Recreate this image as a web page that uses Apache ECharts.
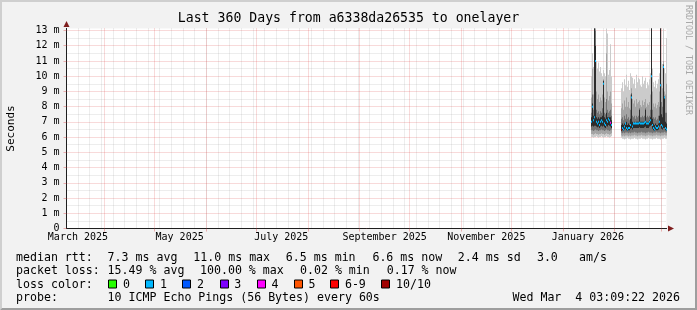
<!DOCTYPE html>
<html><head><meta charset="utf-8">
<script src="https://cdn.jsdelivr.net/npm/echarts@6/dist/echarts.min.js"></script>
<style>html,body{margin:0;padding:0;background:#f2f2f2;overflow:hidden}#c{width:697px;height:310px}</style>
</head><body><div id="c"></div>
<script>
// ---------- data ----------
const titleText = 'Last 360 Days from a6338da26535 to onelayer';
const rangeStart = '2025-03-09T03:09:22';
const rangeEnd = '2026-03-04T03:09:22';
const yMax = 13.13;
const yMajor = [0,1,2,3,4,5,6,7,8,9,10,11,12,13];
const yMinor = [0.5,1.5,2.5,3.5,4.5,5.5,6.5,7.5,8.5,9.5,10.5,11.5,12.5];
const monthStarts = ['2025-04-01','2025-05-01','2025-06-01','2025-07-01','2025-08-01','2025-09-01','2025-10-01','2025-11-01','2025-12-01','2026-01-01','2026-02-01','2026-03-01'];
const labelDates = ['2025-03-16','2025-05-16','2025-07-16','2025-09-16','2025-11-16','2026-01-16'];
const labelTexts = ['March 2025','May 2025','July 2025','September 2025','November 2025','January 2026'];
const weekStarts = ['2025-03-16','2025-03-23','2025-03-30','2025-04-06','2025-04-13','2025-04-20','2025-04-27','2025-05-04','2025-05-11','2025-05-18','2025-05-25','2025-06-01','2025-06-08','2025-06-15','2025-06-22','2025-06-29','2025-07-06','2025-07-13','2025-07-20','2025-07-27','2025-08-03','2025-08-10','2025-08-17','2025-08-24','2025-08-31','2025-09-07','2025-09-14','2025-09-21','2025-09-28','2025-10-05','2025-10-12','2025-10-19','2025-10-26','2025-11-02','2025-11-09','2025-11-16','2025-11-23','2025-11-30','2025-12-07','2025-12-14','2025-12-21','2025-12-28','2026-01-04','2026-01-11','2026-01-18','2026-01-25','2026-02-01','2026-02-08','2026-02-15','2026-02-22','2026-03-01'];

// columns: first column start and column length (one rrd pixel = 14.4 h)
const colStart = '2026-01-17T12:45:22';
const colHours = 14.4;
const N = null;
// smoke bands (outer -> inner), per column; null = no data
const lo1 = [6.0,6.0,5.95,6.0,6.0,6.05,6.0,5.95,6.0,6.0,6.05,6.0,5.95,6.0,6.0,6.05,6.0,6.0,5.95,6.0,6.05, N,N,N,N,N,N,N,N,N,
  5.95,5.9,5.9,5.85,5.9, 5.9,5.95,5.9,5.9,5.85, 5.9,5.9,5.9,5.95,5.9, 5.9,5.85,5.9,5.9,5.9, 5.95,5.9,5.9,5.9,5.85, 5.9,5.9,5.95,5.9,5.9, 5.9,5.85,5.9,5.9,5.9, 5.95,5.9,5.9,5.9,5.85, 5.9,5.9,5.9,5.95,5.9, 5.9];
const hi1 = [10.0,11.5,10.6,13.5,13.5,11.0,10.5,10.9,10.3,10.6,10.2,10.0,10.4,10.2,10.0,13.5,12.8,10.1,10.4,12.1,10.0, N,N,N,N,N,N,N,N,N,
  9.2,9.6,9.0,9.8,9.4, 10.1,9.3,9.7,9.1,10.2, 10.0,9.9,9.5,9.8,9.2, 10.1,9.6,9.9,9.8,9.4, 9.3,10.0,9.5,9.7,9.9, 9.2,9.6,9.4,9.8,10.2, 13.5,10.5,9.6,9.3,9.7, 9.2,9.5,9.8,10.2,13.5, 11.0,10.8,13.5,10.5,10.2, 12.5];
const lo2 = [6.2,6.2,6.15,6.2,6.25,6.2,6.2,6.15,6.2,6.2,6.25,6.2,6.2,6.15,6.2,6.25,6.2,6.2,6.15,6.2,6.25, N,N,N,N,N,N,N,N,N,
  6.1,6.05,6.1,6.05,6.1, 6.1,6.1,6.05,6.1,6.05, 6.1,6.1,6.1,6.15,6.1, 6.1,6.05,6.1,6.1,6.1, 6.15,6.1,6.1,6.1,6.05, 6.1,6.1,6.15,6.1,6.1, 6.1,6.05,6.1,6.1,6.1, 6.15,6.1,6.1,6.1,6.05, 6.1,6.1,6.1,6.15,6.1, 6.1];
const hi2 = [8.6,10.5,8.8,13.5,13.5,9.0,8.5,8.8,8.3,8.6,8.4,8.8,9.8,8.6,8.3,11.5,9.0,8.4,8.7,9.0,8.2, N,N,N,N,N,N,N,N,N,
  7.9,8.2,7.8,8.4,8.0, 8.6,8.0,8.3,7.9,8.8, 9.2,8.5,8.2,8.4,8.0, 8.5,8.2,8.3,8.4,8.1, 8.0,8.4,8.1,8.3,8.5, 8.0,8.2,8.1,8.3,8.8, 13.5,9.0,8.2,8.0,8.2, 7.9,8.1,8.3,9.0,13.5, 9.5,9.2,11.0,9.0,8.8, 9.5];
const lo3 = [6.45,6.45,6.4,6.45,6.5,6.45,6.45,6.4,6.45,6.45,6.5,6.45,6.45,6.4,6.45,6.5,6.45,6.45,6.4,6.45,6.5, N,N,N,N,N,N,N,N,N,
  6.3,6.25,6.3,6.25,6.3, 6.3,6.3,6.25,6.3,6.25, 6.3,6.3,6.3,6.35,6.3, 6.3,6.25,6.3,6.3,6.3, 6.35,6.3,6.3,6.3,6.25, 6.3,6.3,6.35,6.3,6.3, 6.3,6.25,6.3,6.3,6.3, 6.35,6.3,6.3,6.3,6.25, 6.3,6.3,6.3,6.35,6.3, 6.3];
const hi3 = [7.6,8.8,7.8,13.5,13.0,7.8,7.6,7.7,7.5,7.7,7.6,7.9,9.7,7.6,7.5,8.5,7.8,7.6,7.7,7.8,7.4, N,N,N,N,N,N,N,N,N,
  7.2,7.3,7.1,7.4,7.2, 7.5,7.2,7.3,7.1,7.8, 8.9,7.4,7.3,7.4,7.2, 7.4,7.3,7.4,7.9,7.3, 7.3,7.4,7.3,7.4,7.9, 7.3,7.4,7.3,7.4,7.8, 13.5,7.8,7.3,7.2,7.3, 7.1,7.2,7.4,8.0,13.5, 8.3,8.0,10.8,8.7,7.6, 7.6];
const lo4 = [6.7,6.75,6.7,6.75,6.75,6.7,6.65,6.7,6.6,6.7,6.75,6.7,6.75,6.65,6.6,6.75,6.7,6.8,6.75,6.7,6.6, N,N,N,N,N,N,N,N,N,
  6.4,6.45,6.4,6.5,6.55, 6.45,6.4,6.45,6.45,6.55, 6.6,6.5,6.6,6.6,6.6, 6.6,6.6,6.6,6.65,6.6, 6.6,6.6,6.6,6.65,6.7, 6.6,6.6,6.6,6.7,6.75, 6.8,6.55,6.45,6.4,6.5, 6.45,6.45,6.5,6.7,6.8, 6.55,6.5,6.6,6.6,6.45, 6.4];
const hi4 = [7.3,8.2,7.4,13.5,12.0,7.3,7.2,7.3,7.2,7.3,7.3,7.4,9.7,7.3,7.2,7.6,7.3,7.3,7.3,7.3,7.1, N,N,N,N,N,N,N,N,N,
  6.8,6.9,6.8,6.9,6.8, 7.0,6.8,6.9,6.8,7.2, 8.8,7.0,6.9,7.0,6.9, 7.0,7.0,7.0,7.8,7.0, 7.0,7.0,7.0,7.0,7.8, 7.0,7.0,7.0,7.1,7.3, 13.5,7.2,6.9,6.8,6.9, 6.8,6.8,6.9,7.4,13.5, 7.5,7.3,10.7,8.6,7.0, 6.9];
const medianRtt = [7.0,8.0,7.1,7.3,11.0,7.0,6.9,7.0,6.8,7.0,7.1,7.0,9.5,6.9,6.8,7.1,7.0,7.2,7.1,6.95,6.8, N,N,N,N,N,N,N,N,N,
  6.5,6.6,6.5,6.7,6.9, 6.6,6.5,6.6,6.6,6.8, 8.6,6.7,6.9,6.9,6.9, 6.9,6.9,6.9,6.95,6.9, 6.9,6.9,6.9,6.95,7.0, 6.9,6.9,6.9,7.0,7.1, 10.0,6.8,6.6,6.5,6.7, 6.6,6.6,6.7,7.0,9.4, 6.8,6.7,10.6,8.6,6.6, 6.5];
// loss bucket index per column (0..7 -> '0','1','2','3','4','5','6-9','10/10')
const lossBucket = [1,1,1,1,1,1,1,1,1,1,1,1,1,1,1,1,1,1,1,4,1, N,N,N,N,N,N,N,N,N,
  7,1,1,1,1, 1,1,1,1,1, 1,1,1,1,1, 1,1,1,1,1, 1,1,1,1,1, 1,1,1,1,1, 1,1,1,1,1, 1,1,1,1,1, 1,1,1,1,1, 1];
const lossColors = ['#26ff00','#00b8ff','#0059ff','#7e00ff','#ff00ff','#ff5500','#ff0000','#a10000'];
const lossNames = ['0','1','2','3','4','5','6-9','10/10'];

const rttStats = ['7.3 ms avg','11.0 ms max','6.5 ms min','6.6 ms now','2.4 ms sd','3.0','am/s'];
const lossStats = ['15.49 % avg','100.00 % max','0.02 % min','0.17 % now'];
const probeText = '10 ICMP Echo Pings (56 Bytes) every 60s';
const stampText = 'Wed Mar  4 03:09:22 2026';

// ---------- build ----------
const T = s => new Date(s.length === 10 ? s + 'T00:00:00' : s).getTime();
const tMin = T(rangeStart), tMax = T(rangeEnd);
const t0 = T(colStart), stepMs = colHours * 3600 * 1000;
const labelTimes = labelDates.map(T);

function band(lo, hi) {
  const out = [];
  for (let i = 0; i < lo.length; i++) if (lo[i] != null) out.push([t0 + i * stepMs, lo[i], hi[i]]);
  return out;
}
function rectItem(params, api) {
  const t = api.value(0);
  const a = api.coord([t, api.value(1)]);
  const b = api.coord([t + stepMs, api.value(2)]);
  const x0 = Math.round(a[0]), x1 = Math.round(b[0]);
  return { type: 'rect', shape: { x: x0, y: b[1], width: x1 - x0, height: a[1] - b[1] }, style: { fill: api.visual('color') } };
}
const smokeColors = ['#cbcbcb', '#a4a4a4', '#737373', '#2c2c2c'];
const bands = [[lo1, hi1], [lo2, hi2], [lo3, hi3], [lo4, hi4]];
const series = bands.map((b, k) => ({
  type: 'custom', xAxisIndex: 0, yAxisIndex: 0, clip: true, silent: true, animation: false,
  itemStyle: { color: smokeColors[k] }, encode: { x: 0, y: [1, 2] },
  data: band(b[0], b[1]), renderItem: rectItem, z: 2 + k
}));
const medData = [];
for (let i = 0; i < medianRtt.length; i++) if (medianRtt[i] != null) medData.push([t0 + i * stepMs, medianRtt[i], lossBucket[i]]);
series.push({
  type: 'custom', xAxisIndex: 0, yAxisIndex: 0, clip: true, silent: true, animation: false, z: 10,
  encode: { x: 0, y: 1 }, data: medData,
  renderItem: (params, api) => {
    const t = api.value(0);
    const a = api.coord([t, api.value(1)]);
    const b = api.coord([t + stepMs, api.value(1)]);
    const x0 = Math.round(a[0]), x1 = Math.round(b[0]);
    return { type: 'rect', shape: { x: x0, y: a[1] - 1, width: x1 - x0, height: 2 }, style: { fill: lossColors[api.value(2)] } };
  }
});

const MONO = 'DejaVu Sans Mono';
const majorCol = 'rgba(222,79,79,0.42)';
const minorCol = 'rgba(143,143,143,0.32)';
const baseTime = { type: 'value', min: tMin, max: tMax, gridIndex: 0, scale: true, position: 'bottom', offset: 0 };
const baseVal = { type: 'value', min: 0, max: yMax, gridIndex: 0, position: 'left', offset: 0 };
const off = { show: false };

function txt(text, x, y, size, extra) {
  return { type: 'text', x: x, y: y, silent: true, style: Object.assign({
    text: text, font: size + 'px "' + MONO + '"', fill: '#000',
    align: 'left', verticalAlign: 'middle', textAlign: 'left', textVerticalAlign: 'middle' }, extra || {}) };
}
const rows = [257.5, 271, 284.5, 298];
const graphics = [];
// 3D frame
graphics.push({ type: 'polygon', silent: true, shape: { points: [[0,0],[697,0],[695,2],[2,2],[2,308],[0,310]] }, style: { fill: '#cfcfcf' } });
graphics.push({ type: 'polygon', silent: true, shape: { points: [[697,0],[697,310],[0,310],[2,308],[695,308],[695,2]] }, style: { fill: '#9e9e9e' } });
graphics.push(txt(titleText, 348.5, 19, 13.2, { align: 'center', textAlign: 'center' }));
graphics.push(Object.assign(txt('RRDTOOL / TOBI OETIKER', 688, 5, 8.3, { fill: '#a8a8a8' }), { rotation: -Math.PI / 2 }));
graphics.push(Object.assign(txt('Seconds', 11, 128.5, 11, { align: 'center', textAlign: 'center' }), { rotation: Math.PI / 2 }));
const LS = 11.6;
graphics.push(txt('median rtt:', 16, rows[0], LS));
[107.6, 193.3, 285.8, 372.4, 457.8, 536.9, 579.1].forEach((x, i) => graphics.push(txt(rttStats[i], x, rows[0], LS)));
graphics.push(txt('packet loss:', 16, rows[1], LS));
[107.6, 200, 300, 386.7].forEach((x, i) => graphics.push(txt(lossStats[i], x, rows[1], LS)));
graphics.push(txt('loss color:', 16, rows[2], LS));
[108.4, 145.3, 182.2, 219.6, 256.9, 293.8, 330.2, 381.3].forEach((x, i) => {
  graphics.push({ type: 'rect', silent: true, shape: { x: Math.round(x) + 0.5, y: rows[2] - 4.5, width: 8, height: 8 }, style: { fill: lossColors[i], stroke: '#000', lineWidth: 1 } });
  graphics.push(txt(lossNames[i], x + 14.7, rows[2], LS));
});
graphics.push(txt('probe:', 16, rows[3], LS));
graphics.push(txt(probeText, 107.6, rows[3], LS));
graphics.push(txt(stampText, 680, rows[3], LS, { align: 'right', textAlign: 'right' }));

const option = {
  animation: false,
  backgroundColor: '#f2f2f2',
  grid: { left: 66.5, top: 28.5, width: 600, height: 200, show: true, backgroundColor: '#ffffff', borderWidth: 0, containLabel: false, outerBoundsMode: 'none' },
  xAxis: [
    Object.assign({}, baseTime, { z: 1,
      axisLine: { show: true, onZero: false, lineStyle: { color: '#1f1f1f', width: 1 } },
      axisTick: { show: true, length: 3, customValues: monthStarts.map(T), lineStyle: { color: majorCol } },
      axisLabel: { show: true, customValues: labelTimes, margin: 4, color: '#000', fontFamily: MONO, fontSize: 10,
        formatter: v => { const i = labelTimes.indexOf(v); return i >= 0 ? labelTexts[i] : ''; } },
      splitLine: { show: true, lineStyle: { color: majorCol, width: 1, type: [1, 1] } } }),
    Object.assign({}, baseTime, { z: 0,
      axisLine: off, axisLabel: off,
      axisTick: { show: false, customValues: weekStarts.map(T) },
      splitLine: { show: true, lineStyle: { color: minorCol, width: 1, type: [1, 1] } } }),
    Object.assign({}, baseTime, { z: 0,
      axisLine: { show: true, onZero: false, symbol: ['none', 'triangle'], symbolSize: [6, 6], symbolOffset: [0, 4.5], lineStyle: { color: '#801f1f' } },
      axisLabel: off, axisTick: off, splitLine: off })
  ],
  yAxis: [
    Object.assign({}, baseVal, { z: 1,
      axisLine: { show: true, onZero: false, lineStyle: { color: '#1f1f1f', width: 1 } },
      axisTick: { show: true, length: 3, customValues: yMajor, lineStyle: { color: majorCol } },
      axisLabel: { show: true, customValues: yMajor, margin: 7, color: '#000', fontFamily: MONO, fontSize: 10,
        formatter: v => (v === 0 ? '0' : v + ' m') },
      splitLine: { show: true, lineStyle: { color: majorCol, width: 1, type: [1, 1] } } }),
    Object.assign({}, baseVal, { z: 0,
      axisLine: off, axisLabel: off,
      axisTick: { show: false, customValues: yMinor },
      splitLine: { show: true, lineStyle: { color: minorCol, width: 1, type: [1, 1] } } }),
    Object.assign({}, baseVal, { z: 0,
      axisLine: { show: true, onZero: false, symbol: ['none', 'triangle'], symbolSize: [6, 6], symbolOffset: [0, 4.5], lineStyle: { color: '#801f1f' } },
      axisLabel: off, axisTick: off, splitLine: off })
  ],
  series: series,
  graphic: graphics
};
const chart = echarts.init(document.getElementById('c'), null, { renderer: 'canvas' });
chart.setOption(option);
</script>
</body></html>
